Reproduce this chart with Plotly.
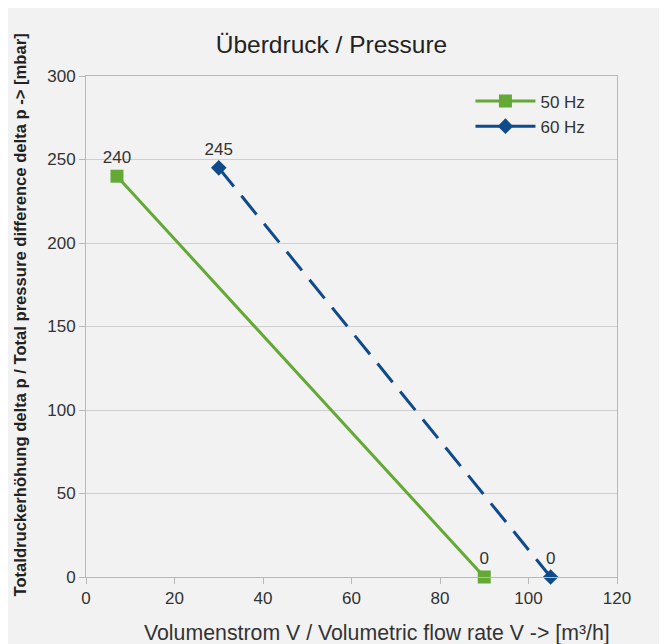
import plotly.graph_objects as go

x50 = [7, 90]
y50 = [240, 0]
x60 = [30, 105]
y60 = [245, 0]
lab50 = ["240", "0"]
lab60 = ["245", "0"]
xticks = [0, 20, 40, 60, 80, 100, 120]
yticks = [0, 50, 100, 150, 200, 250, 300]

green = "#64a836"
navy = "#0f4a8a"
bg = "#f2f2f2"
FONT = "Liberation Sans"

fig = go.Figure()
fig.add_trace(go.Scatter(
    x=x50, y=y50, name="50 Hz", mode="lines+markers+text",
    line=dict(color=green, width=3),
    marker=dict(symbol="square", size=13, color=green),
    text=lab50, textposition="top center",
    textfont=dict(family=FONT, size=17, color="#333333"),
    cliponaxis=False,
))
fig.add_trace(go.Scatter(
    x=x60, y=y60, name="60 Hz", mode="lines+markers+text",
    line=dict(color=navy, width=3, dash="24px,12px"),
    marker=dict(symbol="diamond", size=12, color=navy),
    text=lab60, textposition="top center",
    textfont=dict(family=FONT, size=17, color="#333333"),
    cliponaxis=False,
))

axis_common = dict(
    showline=True, linecolor="#b8b8b8", linewidth=1, mirror=True,
    ticks="outside", ticklen=6, tickcolor="#b8b8b8",
    tickfont=dict(family=FONT, size=17, color="#333333"),
    zeroline=False, automargin=False,
)
fig.update_xaxes(range=[0, 120], tickvals=xticks, showgrid=False, **axis_common)
fig.update_yaxes(range=[0, 300], tickvals=yticks, showgrid=True, gridcolor="#cfcfcf",
                 **axis_common)

fig.add_annotation(
    text="<b>Totaldruckerhöhung delta p / Total pressure difference delta p -> [mbar]</b>",
    xref="paper", yref="paper", x=0, y=0.5, xanchor="center", yanchor="middle",
    xshift=-66, yshift=11, textangle=-90, showarrow=False,
    font=dict(family=FONT, size=16.6, color="#222222"),
)
fig.add_annotation(
    text="Volumenstrom V / Volumetric flow rate V -> [m³/h]",
    xref="paper", yref="paper", x=0.5, y=0, xanchor="center", yanchor="middle",
    xshift=25, yshift=-56, showarrow=False,
    font=dict(family=FONT, size=21.3, color="#333333"),
)

fig.update_layout(
    width=667, height=644,
    margin=dict(l=78, r=58, t=68, b=75),
    paper_bgcolor=bg, plot_bgcolor=bg,
    title=dict(text="Überdruck / Pressure", x=0.485, xanchor="center", y=0.944, yanchor="middle",
               font=dict(family=FONT, size=24.5, color="#222222")),
    legend=dict(x=0.95, y=0.985, xanchor="right", yanchor="top", bgcolor="rgba(0,0,0,0)",
                font=dict(family=FONT, size=17, color="#333333"),
                itemwidth=60, tracegroupgap=0),
    showlegend=True,
)

fig.write_html("out.html")
